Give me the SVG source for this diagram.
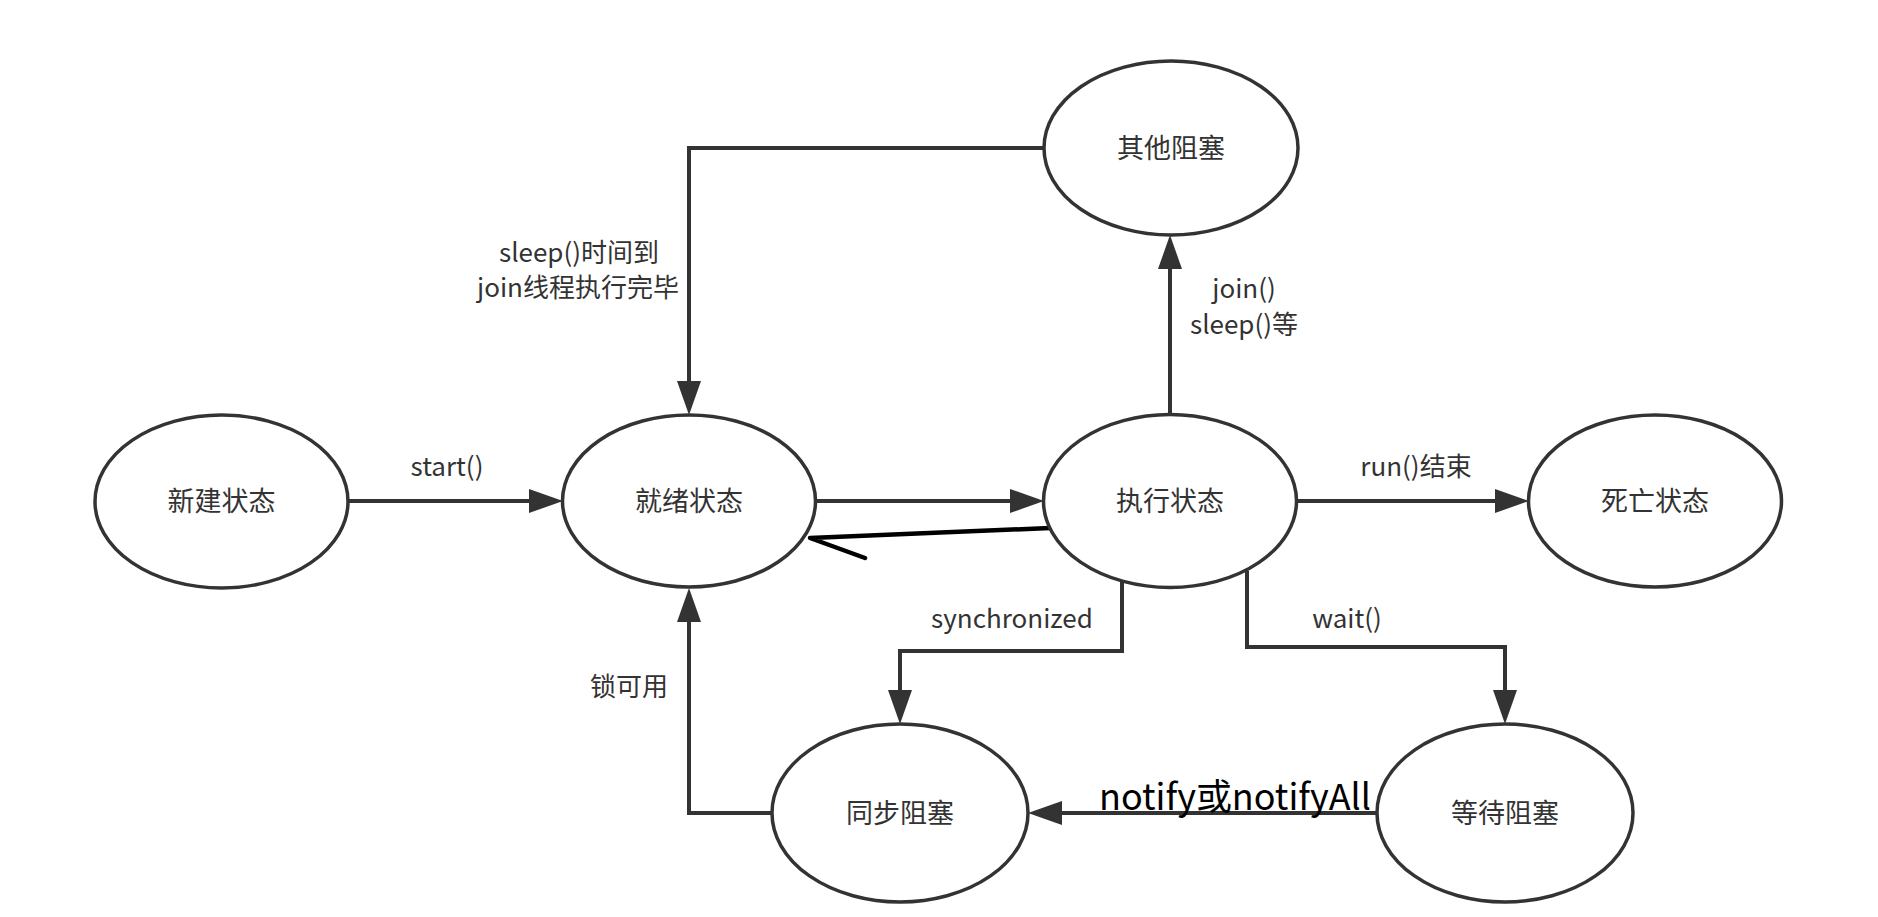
<svg xmlns="http://www.w3.org/2000/svg" width="1878" height="917" viewBox="0 0 1878 917">
<style>
.node ellipse{fill:#fff;stroke:#333;stroke-width:3.5}
.node text{font-family:"Noto Sans CJK SC","Noto Sans",sans-serif;font-size:27px;fill:#333;text-anchor:middle}
.edge{fill:none;stroke:#333;stroke-width:4}
.lbl{font-family:"Noto Sans CJK SC","Noto Sans",sans-serif;font-size:26px;fill:#333;text-anchor:middle}
</style>
<defs>
<marker id="ah" markerUnits="userSpaceOnUse" markerWidth="36" markerHeight="26" refX="4" refY="12" orient="auto">
<path d="M0,0 L34,12 L0,24 z" fill="#333"/>
</marker>
</defs>
<rect width="1878" height="917" fill="#fff"/>
<g id="connectors">
<path class="edge" d="M348,501 H533" marker-end="url(#ah)"/>
<path class="edge" d="M815,501 H1014" marker-end="url(#ah)"/>
<path class="edge" d="M1296,501 H1499" marker-end="url(#ah)"/>
<path class="edge" d="M1170,415 V265" marker-end="url(#ah)"/>
<path class="edge" d="M1045,148 H689 V385" marker-end="url(#ah)"/>
<path class="edge" d="M1122,580 V651 H900 V694" marker-end="url(#ah)"/>
<path class="edge" d="M1247,571 V647 H1505 V694" marker-end="url(#ah)"/>
<path class="edge" d="M772,813 H689 V618" marker-end="url(#ah)"/>
<path class="edge" d="M1378,813 H1058" marker-end="url(#ah)"/>
<polyline points="1050,528 810,538 865,558" fill="none" stroke="#000" stroke-width="4.5" stroke-linecap="round" stroke-linejoin="round"/>
<text class="lbl" x="447" y="476">start()</text>
<text class="lbl" x="1416" y="476">run()结束</text>
<text class="lbl" x="1244" y="298">join()</text>
<text class="lbl" x="1244" y="334">sleep()等</text>
<text class="lbl" x="579" y="262">sleep()时间到</text>
<text class="lbl" x="578" y="297">join线程执行完毕</text>
<text class="lbl" x="1012" y="628">synchronized</text>
<text class="lbl" x="1347" y="628">wait()</text>
<text class="lbl" x="629" y="696">锁可用</text>
<text x="1099" y="810" font-family="'Noto Sans CJK SC','Noto Sans',sans-serif" font-size="36" fill="#000" textLength="272" lengthAdjust="spacingAndGlyphs">notify或notifyAll</text>
</g>
<g id="n-new" class="node"><ellipse cx="221.5" cy="501.5" rx="126.5" ry="86.5"/><text x="221.5" y="511">新建状态</text></g>
<g id="n-ready" class="node"><ellipse cx="689" cy="501" rx="126.5" ry="86"/><text x="689" y="511">就绪状态</text></g>
<g id="n-run" class="node"><ellipse cx="1170" cy="501" rx="126.5" ry="86.5"/><text x="1170" y="511">执行状态</text></g>
<g id="n-dead" class="node"><ellipse cx="1655" cy="501" rx="126.5" ry="86"/><text x="1655" y="511">死亡状态</text></g>
<g id="n-other" class="node"><ellipse cx="1171" cy="148" rx="127" ry="87"/><text x="1171" y="158">其他阻塞</text></g>
<g id="n-sync" class="node"><ellipse cx="900" cy="813" rx="128" ry="89"/><text x="900" y="823">同步阻塞</text></g>
<g id="n-wait" class="node"><ellipse cx="1505" cy="813" rx="128" ry="89"/><text x="1505" y="823">等待阻塞</text></g>
</svg>
